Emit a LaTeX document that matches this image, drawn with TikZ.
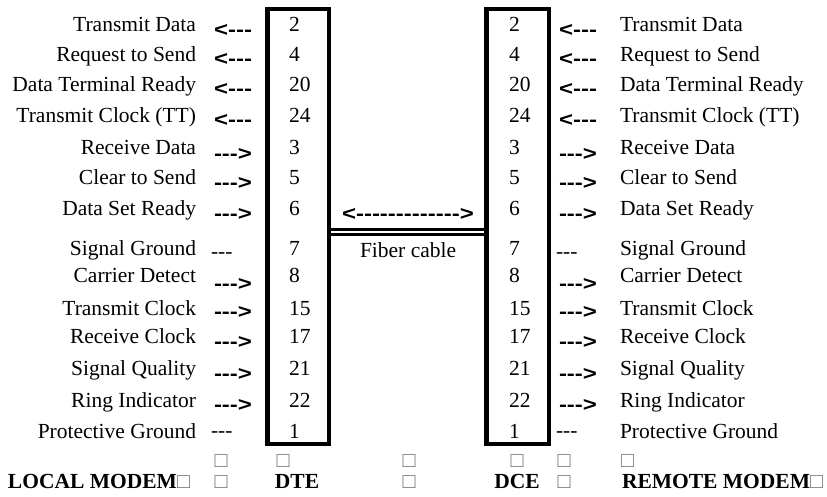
\documentclass[tikz,border=0pt]{standalone}
\usepackage{fontspec}
\usepackage{graphicx}
\setmainfont{Liberation Serif}
\newfontfamily\arrowfont{Liberation Sans}
\definecolor{sqgray}{gray}{0.45}
\newcommand\dsh{-\kern0pt}
\newcommand\arL{<\kern0pt\dsh\dsh-}
\newcommand\arR{\dsh\dsh\dsh>}
\newcommand\gnd{\dsh\dsh-}
\newcommand\sq{{\color{sqgray}□}}
\begin{document}
\begin{tikzpicture}[x=1pt,y=-1pt,
  txt/.style={inner sep=0pt, outer sep=0pt, font=\fontsize{21.5}{24}\selectfont},
  lbl/.style={txt, anchor=base east},
  rlbl/.style={txt, anchor=base west},
  num/.style={txt, anchor=base west},
  gndtxt/.style={txt, anchor=base west},
  arrw/.style={inner sep=0pt, outer sep=0pt, anchor=base west, font=\arrowfont\bfseries\fontsize{20}{24}\selectfont},
  sqnode/.style={txt, anchor=base},
  boldtxt/.style={txt, font=\fontsize{21.5}{24}\selectfont\bfseries},
  pinbox/.style={draw, line width=4.5pt, inner sep=0pt, minimum width=61.5pt, minimum height=434.5pt},
  fiber/.style={line width=3.2pt}
]
\useasboundingbox (0,0) rectangle (827,497);

% connector boxes
\node[pinbox] (dte) at (298,226.5) {};
\node[pinbox, minimum width=62.5pt] (dce) at (517.5,226.5) {};

% fiber cable (double line)
\coordinate (fa) at (0,229.3);
\coordinate (fb) at (0,234.3);
\draw[fiber] (dte.east |- fa) -- (dce.west |- fa);
\draw[fiber] (dte.east |- fb) -- (dce.west |- fb);
\node[arrw] (cab) at (342,221) {\scalebox{1.2}[1]{<\kern0pt\dsh\dsh\dsh\dsh\dsh\dsh\dsh\dsh\dsh\dsh\dsh\dsh\dsh>}};
\node[txt, anchor=base west] (fib) at (360,257) {Fiber cable};

% rows: index / baseline / label / pin / type (1=in,2=out,3=ground) / symbol centre
\foreach \i/\y/\lab/\n/\t/\ay in {
  1/32/Transmit Data/2/1/31,
  2/62/Request to Send/4/1/60,
  3/92/Data Terminal Ready/20/1/90,
  4/123/Transmit Clock (TT)/24/1/121,
  5/155/Receive Data/3/2/155,
  6/185/Clear to Send/5/2/184,
  7/215/Data Set Ready/6/2/215,
  8/255/Signal Ground/7/3/253,
  9/282/Carrier Detect/8/2/284,
  10/315/Transmit Clock/15/2/312,
  11/343/Receive Clock/17/2/342,
  12/375/Signal Quality/21/2/374,
  13/407/Ring Indicator/22/2/405,
  14/438/Protective Ground/1/3/432}{
  \node[lbl] (ll\i) at (196,\y) {\lab};
  \node[num] (ln\i) at (289,\y) {\n};
  \node[num] (rn\i) at (509,\y) {\n};
  \node[rlbl] (rl\i) at (620,\y) {\lab};
  \ifcase\t
  \or
    \node[arrw] (la\i) at (214,{\ay+6}) {\scalebox{1.2}[1]{\arL}};
    \node[arrw] (ra\i) at (559,{\ay+6}) {\scalebox{1.2}[1]{\arL}};
  \or
    \node[arrw] (la\i) at (214,{\ay+6}) {\scalebox{1.2}[1]{\arR}};
    \node[arrw] (ra\i) at (559,{\ay+6}) {\scalebox{1.2}[1]{\arR}};
  \or
    \node[gndtxt] (la\i) at (211,{\ay+5.4}) {\gnd};
    \node[gndtxt] (ra\i) at (556,{\ay+5.4}) {\gnd};
  \fi
}

% bottom rows
\foreach \k/\x in {1/221,2/283,3/409,4/517,5/564,6/627.5}{
  \node[sqnode] (sa\k) at (\x,467) {\sq};
}
\node[boldtxt, anchor=base west] (lm) at (8,488) {LOCAL MODEM\sq};
\node[sqnode] (sb1) at (221,488) {\sq};
\node[boldtxt, anchor=base] (dtel) at (297,488) {DTE};
\node[sqnode] (sb2) at (409,488) {\sq};
\node[boldtxt, anchor=base] (dcel) at (517,488) {DCE};
\node[sqnode] (sb3) at (564,488) {\sq};
\node[boldtxt, anchor=base west] (rm) at (622,488) {REMOTE MODEM\sq};
\end{tikzpicture}
\end{document}
